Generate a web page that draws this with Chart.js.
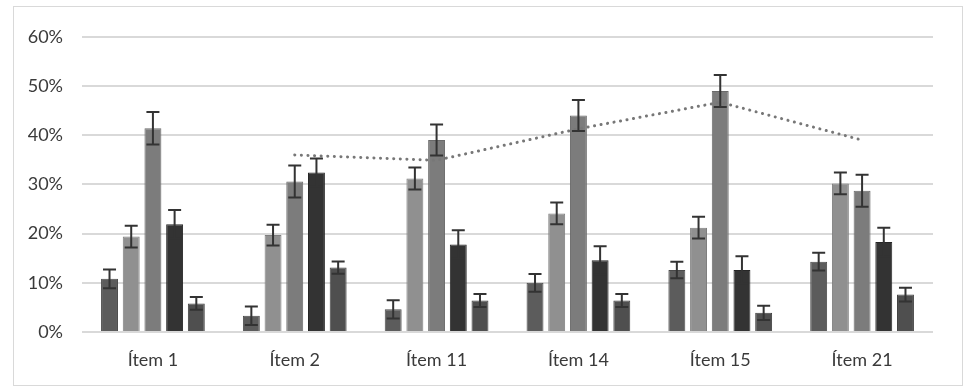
<!DOCTYPE html>
<html lang="es">
<head>
  <meta charset="UTF-8">
  <title>Ítems</title>
  <script src="https://cdn.jsdelivr.net/npm/chart.js"></script>
  <style>
    body {
      margin: 0;
      background: #fff;
    }
    .box {
      position: absolute;
      left: 13px;
      top: 6px;
      width: 950px;
      height: 380px;
      box-sizing: border-box;
      border: 1px solid #d9d9d9;
    }
  </style>
</head>
<body>
  <div class="box">
    <canvas id="chart" width="948" height="378"></canvas>
  </div>

  <script>
    const categories = ['Ítem 1', 'Ítem 2', 'Ítem 11', 'Ítem 14', 'Ítem 15', 'Ítem 21'];

    // valores de las barras (%)
    const serie1 = [10.8, 3.3, 4.6, 10.0, 12.6, 14.3];
    const serie2 = [19.4, 19.7, 31.2, 24.1, 21.2, 30.2];
    const serie3 = [41.4, 30.6, 39.0, 44.0, 49.0, 28.7];
    const serie4 = [21.9, 32.4, 17.8, 14.6, 12.6, 18.3];
    const serie5 = [5.8, 13.1, 6.4, 6.4, 3.9, 7.6];

    // barras de error (+/-)
    const error1 = [1.9, 1.9, 1.85, 1.8, 1.7, 1.8];
    const error2 = [2.2, 2.1, 2.25, 2.2, 2.2, 2.2];
    const error3 = [3.3, 3.25, 3.15, 3.15, 3.25, 3.25];
    const error4 = [2.9, 2.85, 2.9, 2.85, 2.8, 2.9];
    const error5 = [1.3, 1.25, 1.3, 1.3, 1.45, 1.4];

    // línea punteada
    const linea = [null, 36.0, 34.9, 41.3, 46.7, 39.0];

    const yTicks = [0, 10, 20, 30, 40, 50, 60];

    const barColors = ['#5c5c5c', '#909090', '#7c7c7c', '#333333', '#4f4f4f'];
    const barBorders = ['#4a4a4a', '#7e7e7e', '#6a6a6a', '#262626', '#404040'];
    const series = [serie1, serie2, serie3, serie4, serie5];
    const errors = [error1, error2, error3, error4, error5];

    const errorBars = {
      id: 'errorBars',
      afterDatasetsDraw(chart) {
        const ctx = chart.ctx;
        const y = chart.scales.y;
        ctx.save();
        ctx.strokeStyle = '#333333';
        ctx.lineWidth = 2;
        chart.data.datasets.forEach((ds, i) => {
          if (!ds.errors) return;
          chart.getDatasetMeta(i).data.forEach((bar, j) => {
            const v = ds.data[j];
            const e = ds.errors[j];
            const top = y.getPixelForValue(v + e);
            const bottom = y.getPixelForValue(v - e);
            const cap = 6.5;
            ctx.beginPath();
            ctx.moveTo(bar.x, top);
            ctx.lineTo(bar.x, bottom);
            ctx.moveTo(bar.x - cap, top);
            ctx.lineTo(bar.x + cap, top);
            ctx.moveTo(bar.x - cap, bottom);
            ctx.lineTo(bar.x + cap, bottom);
            ctx.stroke();
          });
        });
        ctx.restore();
      }
    };

    const datasets = [{
      type: 'line',
      data: linea,
      borderColor: '#777777',
      borderWidth: 3,
      borderDash: [0.1, 6.5],
      borderCapStyle: 'round',
      pointRadius: 0,
      fill: false,
      order: 0
    }];
    series.forEach((s, i) => {
      datasets.push({
        type: 'bar',
        data: s,
        errors: errors[i],
        backgroundColor: barColors[i],
        borderColor: barBorders[i],
        borderWidth: 1,
        categoryPercentage: 0.765,
        barPercentage: 0.78,
        order: 1
      });
    });

    new Chart(document.getElementById('chart'), {
      data: { labels: categories, datasets: datasets },
      plugins: [errorBars],
      options: {
        responsive: false,
        animation: false,
        layout: { padding: { top: 27, right: 29, left: 0, bottom: 0 } },
        plugins: {
          legend: { display: false },
          tooltip: { enabled: false }
        },
        scales: {
          x: {
            grid: { display: false },
            border: { display: false },
            ticks: {
              color: '#3a3a3a',
              font: { family: 'Lato', size: 18 },
              padding: 9
            },
            afterFit(scale) { scale.height = 53; }
          },
          y: {
            min: 0,
            max: 60,
            afterBuildTicks(scale) { scale.ticks = yTicks.map(v => ({ value: v })); },
            grid: { color: '#d9d9d9', lineWidth: 2, drawTicks: false },
            border: { display: false },
            ticks: {
              color: '#3a3a3a',
              font: { family: 'Lato', size: 18 },
              padding: 19,
              callback: v => v + '%'
            },
            afterFit(scale) { scale.width = 68; }
          }
        }
      }
    });
  </script>
</body>
</html>
